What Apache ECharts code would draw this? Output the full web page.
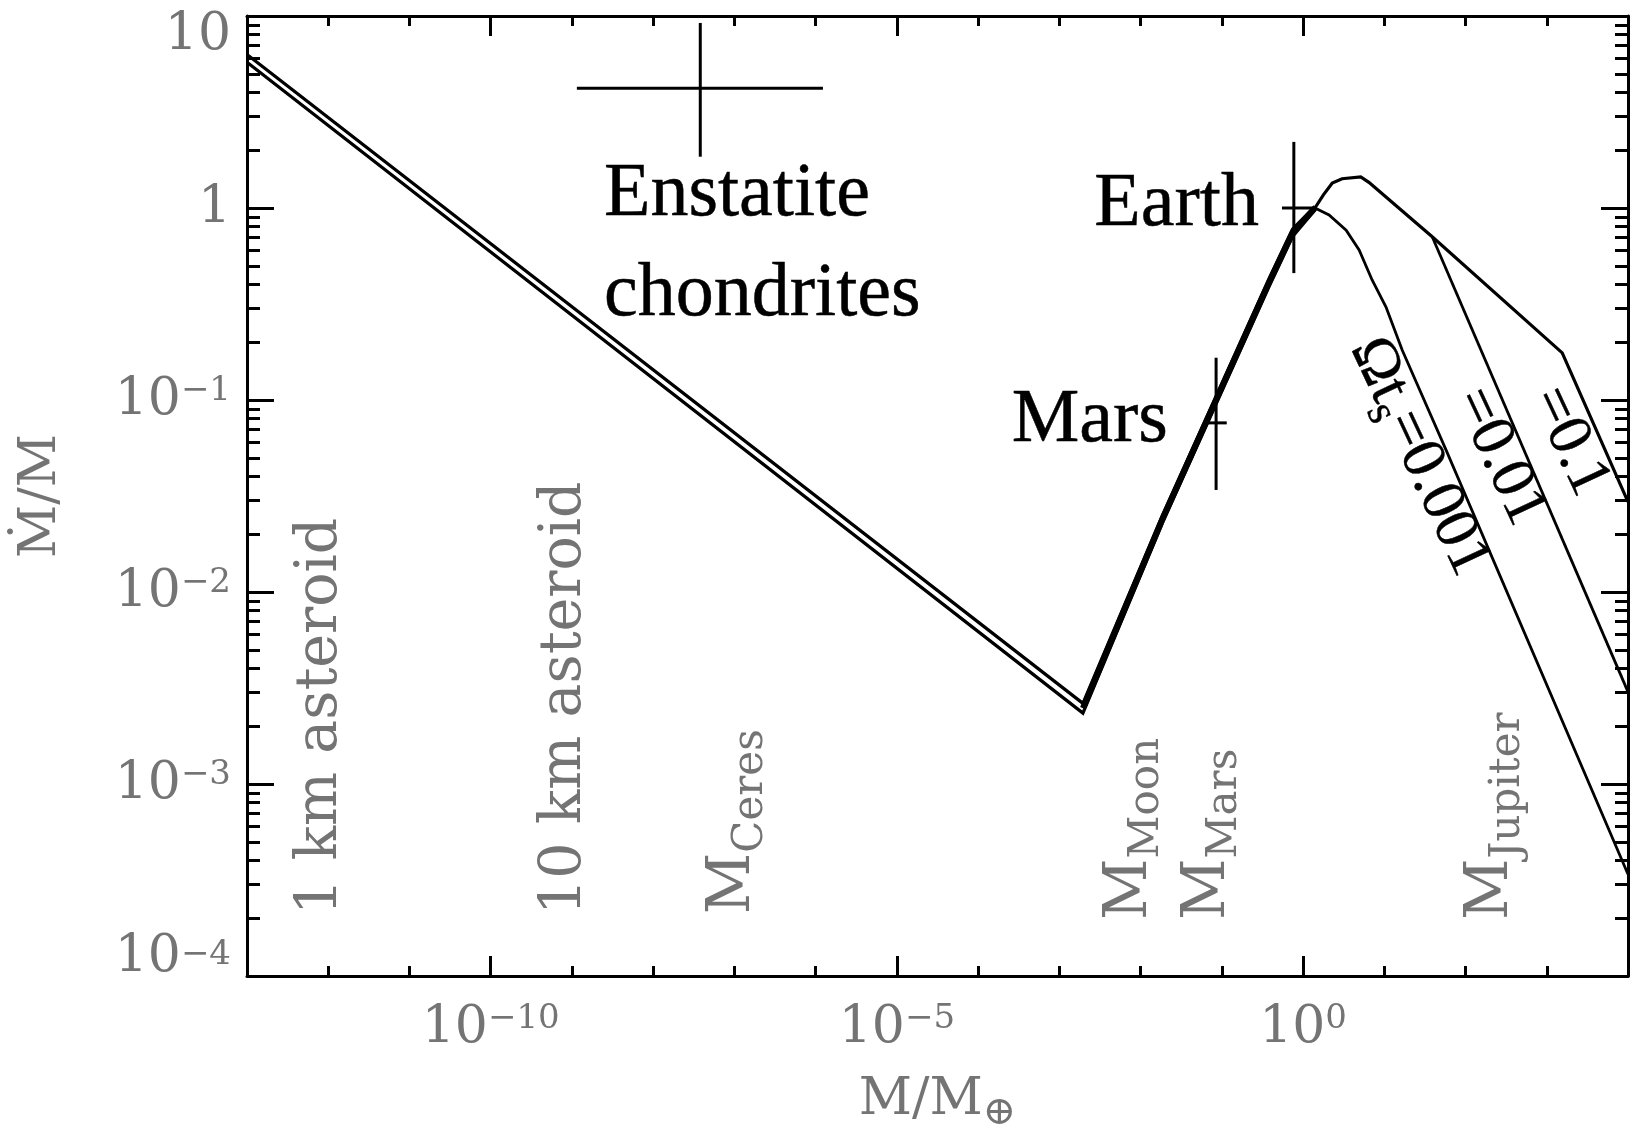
<!DOCTYPE html>
<html><head><meta charset="utf-8">
<script src="https://cdn.jsdelivr.net/npm/echarts@6/dist/echarts.min.js"></script>
<style>html,body{margin:0;padding:0;background:#fff}#c{width:1632px;height:1125px}</style>
</head><body><div id="c"></div>
<script>
// ---------------- data (M in Earth masses, Mdot/M) ----------------
const xTickExponents = [-10, -5, 0];
const yTickExponents = [-4, -3, -2, -1, 0, 1];
const minorMultipliers = [2, 3, 4, 5, 6, 7, 8, 9];

// double line (small bodies -> Earth)
const basePathM      = [1e-13, 1.95e-3, 1.86e-2, 0.380, 0.741, 1.40];
const upperPathMdot  = [6.31, 2.63e-3, 2.51e-2, 0.427, 0.776, 1.02];
const lowerPathMdot  = [5.75, 2.34e-3, 2.29e-2, 0.389, 0.708, 0.977];
// merged thick rising part
const risingPathM    = [1.95e-3, 1.86e-2, 0.380, 0.741, 1.40];
const risingPathMdot = [2.48e-3, 2.40e-2, 0.408, 0.741, 1.00];

// Omega t_s = 0.1
const curve01M    = [1.40, 1.78, 2.29, 3.02, 5.13, 6.46, 38.9, 1550, 1e4];
const curve01Mdot = [1.00, 1.17, 1.35, 1.42, 1.45, 1.36, 0.708, 0.176, 0.0295];
// Omega t_s = 0.01
const curve001M    = [38.9, 1e4];
const curve001Mdot = [0.708, 3.02e-3];
// Omega t_s = 0.001
const curve0001M    = [1.40, 2.09, 3.39, 4.90, 7.08, 10.5, 16.6, 57.5, 1e4];
const curve0001Mdot = [1.00, 0.920, 0.767, 0.604, 0.422, 0.305, 0.182, 0.0550, 3.39e-4];

// crosses (error bars)
const crossNames    = ['Enstatite chondrites', 'Earth', 'Mars'];
const crossM        = [3.8e-8, 0.77, 0.085];
const crossMLow     = [1.15e-9, 0.55, 0.066];
const crossMHigh    = [1.23e-6, 1.30, 0.115];
const crossMdot     = [4.2, 1.0, 0.076];
const crossMdotLow  = [1.85, 0.458, 0.034];
const crossMdotHigh = [9.2, 2.21, 0.166];

// black annotations
const noteTexts = ['Enstatite\nchondrites', 'Earth', 'Mars'];
const noteM     = [2.48e-9, 0.286, 0.0217];
const noteMdot  = [0.641, 1.04, 0.0778];

// Omega t_s labels
const omegaTexts = ['Ωt_s=0.001', '=0.01', '=0.1'];
const omegaM     = [21.9, 211, 1538];
const omegaMdot  = [0.0487, 0.0487, 0.0583];

// grey mass labels
const massMain = ['1 km asteroid', '10 km asteroid', 'M', 'M', 'M', 'M'];
const massSub  = ['', '', 'Ceres', 'Moon', 'Mars', 'Jupiter'];
const massM    = [8.2e-13, 8.3e-10, 1.23e-7, 9.3e-3, 0.085, 258];
const massMdot = [2.08e-4, 2.08e-4, 2.10e-4, 1.96e-4, 1.96e-4, 1.96e-4];

// ---------------- build ----------------
const L = Math.log10;
const pairs = (xs, ys) => xs.map((x, i) => [L(x), L(ys[i])]);
const GRAY = '#747474';
const FG = 'DejaVu Serif';
const FB = 'Liberation Serif';
const xMin = -13, xMax = 4, yMin = -4, yMax = 1;
const decadesX = []; for (let e = xMin; e <= xMax; e++) decadesX.push(e);
const decadesY = []; for (let e = yMin; e <= yMax; e++) decadesY.push(e);
const minorY = []; for (let e = yMin; e < yMax; e++) for (const m of minorMultipliers) minorY.push(e + L(m));

const supTxt = n => (n < 0 ? '−' + (-n) : '' + n);
const yLabel = v => {
  const e = Math.round(v);
  if (e === 0) return '{b|1}';
  if (e === yMax) return '{bt|10}';
  if (e === yMin) return '{bt|10}{st|' + supTxt(e) + '}';
  return '{b|10}{s|' + supTxt(e) + '}';
};
const xLabel = v => '{b|10}{s|' + supTxt(Math.round(v)) + '}';
const tickRich = {
  b: {fontFamily: FG, fontSize: 52, lineHeight: 52, color: GRAY},
  s: {fontFamily: FG, fontSize: 34, lineHeight: 34, color: GRAY, verticalAlign: 'top'},
  bt: {fontFamily: FG, fontSize: 52, lineHeight: 38, color: GRAY},
  st: {fontFamily: FG, fontSize: 34, lineHeight: 24, color: GRAY, verticalAlign: 'top'}
};
const K = '#000';
function xAx(pos, len, vals, extra) {
  return Object.assign({
    type: 'value', min: xMin, max: xMax, position: pos,
    axisLine: {show: true, onZero: false, lineStyle: {color: K, width: 3}},
    axisTick: {show: true, inside: true, length: len, customValues: vals, lineStyle: {color: K, width: 3}},
    axisLabel: {show: false}, splitLine: {show: false}
  }, extra || {});
}
function yAx(pos, len, vals, extra) {
  return Object.assign({
    type: 'value', min: yMin, max: yMax, position: pos,
    axisLine: {show: true, onZero: false, lineStyle: {color: K, width: 3}},
    axisTick: {show: true, inside: true, length: len, customValues: vals, lineStyle: {color: K, width: 3}},
    axisLabel: {show: false}, splitLine: {show: false}
  }, extra || {});
}

const crossData = crossM.map((m, i) => [L(m), L(crossMdot[i]), L(crossMLow[i]), L(crossMHigh[i]), L(crossMdotLow[i]), L(crossMdotHigh[i])]);

function lineSeries(name, data, w) {
  return {type: 'line', name: name, data: data, symbol: 'none', showSymbol: false, silent: true,
    lineStyle: {color: K, width: w, join: 'miter', cap: 'butt'}, z: 3};
}

const noteData = noteTexts.map((t, i) => ({
  value: [L(noteM[i]), L(noteMdot[i])],
  label: {
    formatter: t.split('\n').map(s => '{e|' + s + '}').join('\n'),
    align: i === 0 ? 'left' : 'right', verticalAlign: 'middle'
  }
}));
const omegaData = omegaTexts.map((t, i) => ({
  value: [L(omegaM[i]), L(omegaMdot[i])],
  label: {
    formatter: t.replace(/^Ωt_s(.*)$/, '{a|Ωt}{s|s}{a|$1}').replace(/^(=[0-9.]+)$/, '{a|$1}'),
    align: 'center', verticalAlign: 'middle', rotate: -65
  }
}));
const massData = massMain.map((t, i) => ({
  value: [L(massM[i]), L(massMdot[i])],
  label: {
    formatter: massSub[i] ? '{m|' + t + '}{s|' + massSub[i] + '}' : '{t|' + t + '}',
    align: 'left', verticalAlign: 'middle', rotate: 90
  }
}));
const blackLabel = {show: true, position: [0, 0], color: K, textBorderColor: K, textBorderWidth: 0.5};
const labelSeriesBase = {type: 'scatter', symbolSize: 0, silent: true, z: 5, itemStyle: {opacity: 1, color: K}};

const option = {
  animation: false,
  backgroundColor: '#fff',
  grid: {left: 247, right: 4, top: 16, bottom: 149, containLabel: false, outerBoundsMode: 'none'},
  xAxis: [
    xAx('bottom', 10, decadesX, {
      axisLabel: {show: true, customValues: xTickExponents, formatter: xLabel, rich: tickRich, margin: 26},
      name: '{m|M/M}{s|⊕}', nameLocation: 'middle', nameGap: 106,
      nameTextStyle: {rich: {
        m: {fontFamily: FG, fontSize: 52, lineHeight: 52, color: GRAY, verticalAlign: 'bottom', padding: [0, 0, 8, 0]},
        s: {fontFamily: FG, fontSize: 40, lineHeight: 40, color: GRAY, verticalAlign: 'bottom'}
      }}
    }),
    xAx('bottom', 20, xTickExponents, {axisLine: {show: false, onZero: false}}),
    xAx('top', 10, decadesX),
    xAx('top', 20, xTickExponents, {axisLine: {show: false, onZero: false}})
  ],
  yAxis: [
    yAx('left', 27, decadesY, {
      axisLabel: {show: true, customValues: yTickExponents, formatter: yLabel, rich: tickRich, margin: 16,
        verticalAlignMinLabel: 'bottom', verticalAlignMaxLabel: 'top'},
      name: '{m|Ṁ/M}', nameLocation: 'middle', nameGap: 180, nameRotate: 90,
      nameTextStyle: {rich: {m: {fontFamily: FG, fontSize: 52, lineHeight: 52, color: GRAY}}}
    }),
    yAx('left', 13, minorY, {axisLine: {show: false, onZero: false}}),
    yAx('right', 27, decadesY),
    yAx('right', 13, minorY, {axisLine: {show: false, onZero: false}})
  ],
  series: [
    {
      type: 'custom', name: 'crosses', data: crossData, silent: true, z: 2,
      encode: {x: [0, 2, 3], y: [1, 4, 5]},
      renderItem: function (params, api) {
        const xl = api.coord([api.value(2), api.value(1)]);
        const xh = api.coord([api.value(3), api.value(1)]);
        const yl = api.coord([api.value(0), api.value(4)]);
        const yh = api.coord([api.value(0), api.value(5)]);
        const st = {stroke: K, lineWidth: 3};
        return {type: 'group', children: [
          {type: 'line', shape: {x1: xl[0], y1: xl[1], x2: xh[0], y2: xh[1]}, style: st},
          {type: 'line', shape: {x1: yl[0], y1: yl[1], x2: yh[0], y2: yh[1]}, style: st}
        ]};
      }
    },
    lineSeries('upper', pairs(basePathM, upperPathMdot), 3.2),
    lineSeries('lower', pairs(basePathM, lowerPathMdot), 3.2),
    lineSeries('rising', pairs(risingPathM, risingPathMdot), 6),
    lineSeries('Ωts=0.1', pairs(curve01M, curve01Mdot), 3.2),
    lineSeries('Ωts=0.01', pairs(curve001M, curve001Mdot), 2.8),
    lineSeries('Ωts=0.001', pairs(curve0001M, curve0001Mdot), 2.8),
    Object.assign({}, labelSeriesBase, {
      name: 'notes', data: noteData,
      label: Object.assign({}, blackLabel, {rich: {e: {fontFamily: FB, fontSize: 76, lineHeight: 100, color: K, textBorderColor: K, textBorderWidth: 0.5}}})
    }),
    Object.assign({}, labelSeriesBase, {
      name: 'omega', data: omegaData,
      label: Object.assign({}, blackLabel, {rich: {
        a: {fontFamily: FB, fontSize: 62, lineHeight: 62, color: K, textBorderColor: K, textBorderWidth: 0.4, verticalAlign: 'bottom', padding: [0, 0, 8, 0]},
        s: {fontFamily: FB, fontSize: 44, lineHeight: 44, color: K, textBorderColor: K, textBorderWidth: 0.4, verticalAlign: 'bottom'}
      }})
    }),
    Object.assign({}, labelSeriesBase, {
      name: 'masses', data: massData,
      label: {show: true, position: [0, 0], color: GRAY, rich: {
        t: {fontFamily: FG, fontSize: 57, lineHeight: 57, color: GRAY},
        m: {fontFamily: FG, fontSize: 60, lineHeight: 60, color: GRAY, verticalAlign: 'bottom', padding: [0, 0, 8, 0]},
        s: {fontFamily: FG, fontSize: 42, lineHeight: 42, color: GRAY, verticalAlign: 'bottom'}
      }}
    })
  ]
};
const chart = echarts.init(document.getElementById('c'));
chart.setOption(option);
</script></body></html>
